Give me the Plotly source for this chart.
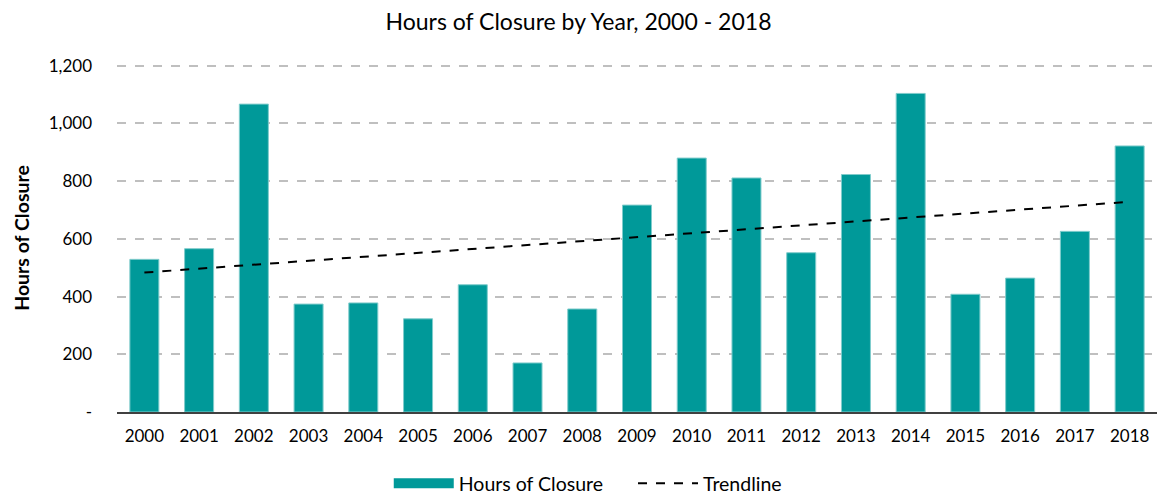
import numpy as np
import plotly.graph_objects as go

years = [str(y) for y in range(2000, 2019)]
hours = [529, 566, 1067, 374, 378, 323, 441, 170, 357, 717, 880, 811, 552, 823, 1104, 408, 464, 626, 922]
y_tickvals = [0, 200, 400, 600, 800, 1000, 1200]
y_ticktext = ["-", "200", "400", "600", "800", "1,000", "1,200"]

# Linear trendline (least squares fit of the bar values, as in Excel)
idx = np.arange(len(hours))
slope, intercept = np.polyfit(idx, hours, 1)
trend = slope * idx + intercept

FONT = "Lato, 'Open Sans', sans-serif"
TEAL = "#009999"

fig = go.Figure()
fig.add_trace(go.Bar(
    x=years, y=hours, name="Hours of Closure", showlegend=False,
    marker=dict(color=TEAL, line=dict(color="#80cccc", width=1)),
))
# legend entry drawn as a wide swatch (like the reference)
fig.add_trace(go.Scatter(
    x=[None], y=[None], name="Hours of Closure\u00a0\u00a0\u00a0\u00a0\u00a0", mode="lines",
    line=dict(color=TEAL, width=12),
))
fig.add_trace(go.Scatter(
    x=years, y=trend, name="Trendline", mode="lines",
    line=dict(color="black", width=2, dash="dash"),
))

fig.update_layout(
    width=1157, height=494,
    margin=dict(l=117, r=0, t=64, b=82, autoexpand=False),
    paper_bgcolor="white", plot_bgcolor="white",
    bargap=0.47,
    font=dict(family=FONT, size=17, color="#000000"),
    title=dict(text="Hours of Closure by Year, 2000 - 2018", x=0.5, xref="container",
               y=0.955, yref="container", yanchor="middle", xanchor="center",
               font=dict(family=FONT, size=23, color="black")),
    legend=dict(orientation="h", x=0.508, xref="container", xanchor="center",
                y=0.021, yref="container", yanchor="middle",
                font=dict(family=FONT, size=19.5), itemwidth=60, traceorder="normal"),
    showlegend=True,
)
fig.update_xaxes(
    type="category", showgrid=False, showline=True, linecolor="#404040", linewidth=2,
    ticks="", tickfont=dict(size=17), ticklabelstandoff=8, tickangle=0,
)
fig.update_yaxes(
    range=[0, 1206], tickvals=y_tickvals, ticktext=y_ticktext,
    showgrid=True, gridcolor="#bfbfbf", gridwidth=1.5, griddash="dash",
    zeroline=False, showline=False, ticks="", ticklabelstandoff=24,
    tickfont=dict(size=17),
    title=dict(text="<b>Hours of Closure</b>", font=dict(family=FONT, size=19.5), standoff=13),
)

fig.write_html("out.html")
